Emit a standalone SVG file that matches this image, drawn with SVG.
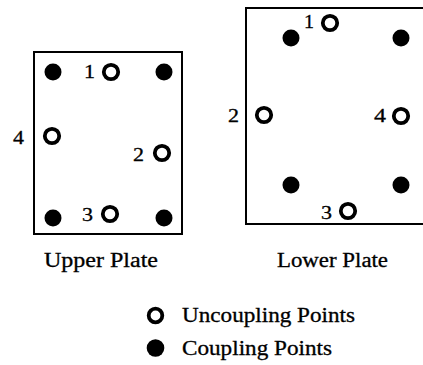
<svg xmlns="http://www.w3.org/2000/svg" width="423" height="365" viewBox="0 0 423 365">
  <style>
    .plate { fill: none; stroke: #000; stroke-width: 2; }
    .cp { fill: #000; }
    .up { fill: #fff; stroke: #000; stroke-width: 3.8; }
    .lbl { font-family: "Liberation Serif", "Times New Roman", serif; font-size: 19px; fill: #000; stroke: #000; stroke-width: 0.3; }
    .cap { font-family: "Liberation Serif", "Times New Roman", serif; font-size: 20px; fill: #000; stroke: #000; stroke-width: 0.3; }
  </style>
  <defs>
    <circle id="coupling" class="cp" r="8.5"/>
    <circle id="uncoupling" class="up" r="7.2"/>
  </defs>

  <!-- Upper plate -->
  <g id="upper-plate">
    <rect class="plate" x="34" y="52" width="148" height="182"/>
    <use href="#coupling" x="53" y="72"/>
    <use href="#coupling" x="164" y="72"/>
    <use href="#coupling" x="53" y="218"/>
    <use href="#coupling" x="164" y="218"/>
    <use href="#uncoupling" x="111" y="72"/>
    <use href="#uncoupling" x="52" y="136"/>
    <use href="#uncoupling" x="162" y="153"/>
    <use href="#uncoupling" x="110" y="214"/>
    <text class="lbl" x="84" y="78" textLength="11" lengthAdjust="spacingAndGlyphs">1</text>
    <text class="lbl" x="13" y="144" textLength="11" lengthAdjust="spacingAndGlyphs">4</text>
    <text class="lbl" x="133" y="161" textLength="11" lengthAdjust="spacingAndGlyphs">2</text>
    <text class="lbl" x="82" y="221" textLength="11" lengthAdjust="spacingAndGlyphs">3</text>
    <text class="cap" x="44" y="267" textLength="114" lengthAdjust="spacingAndGlyphs">Upper Plate</text>
  </g>

  <!-- Lower plate (right edge runs past the canvas) -->
  <g id="lower-plate">
    <path class="plate" d="M430,8 H246 V224 H430"/>
    <use href="#coupling" x="291" y="38"/>
    <use href="#coupling" x="401" y="38"/>
    <use href="#coupling" x="291" y="185"/>
    <use href="#coupling" x="401" y="185"/>
    <use href="#uncoupling" x="330" y="23"/>
    <use href="#uncoupling" x="264" y="115"/>
    <use href="#uncoupling" x="401" y="116"/>
    <use href="#uncoupling" x="348" y="211"/>
    <text class="lbl" x="304" y="28" textLength="10" lengthAdjust="spacingAndGlyphs">1</text>
    <text class="lbl" x="228" y="122" textLength="11" lengthAdjust="spacingAndGlyphs">2</text>
    <text class="lbl" x="374" y="122" textLength="12" lengthAdjust="spacingAndGlyphs">4</text>
    <text class="lbl" x="321" y="219" textLength="11" lengthAdjust="spacingAndGlyphs">3</text>
    <text class="cap" x="277" y="267" textLength="111" lengthAdjust="spacingAndGlyphs">Lower Plate</text>
  </g>

  <!-- Legend -->
  <g id="legend">
    <circle class="up" cx="155.5" cy="315.5" r="6.8"/>
    <text class="cap" x="182" y="322" textLength="173" lengthAdjust="spacingAndGlyphs">Uncoupling Points</text>
    <circle class="cp" cx="155.5" cy="348" r="8.8"/>
    <text class="cap" x="182" y="354.5" textLength="150" lengthAdjust="spacingAndGlyphs">Coupling Points</text>
  </g>
</svg>
